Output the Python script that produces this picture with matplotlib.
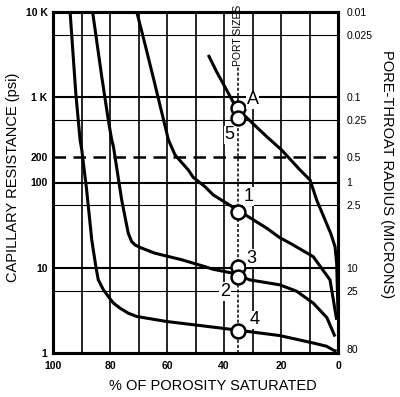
import numpy as np
import matplotlib
matplotlib.use("Agg")
import matplotlib.pyplot as plt
import matplotlib.transforms as mtransforms

plt.rcParams['font.family'] = ['Liberation Sans', 'DejaVu Sans']

# curves: % porosity saturated vs capillary pressure (psi)
sat_4 = [94.0, 92.0, 90.5, 89.9, 88.2, 86.4, 84.9, 84.1, 82.3, 80.6, 78.8, 76.5, 73.6, 70.6,
         60.1, 48.4, 35.0, 20.4, 8.7, 4.0, 1.6, 0.5]
pc_4 = [10000, 1114, 316, 241, 82, 21.2, 10.0, 7.2, 5.5, 4.6, 3.85, 3.36, 2.93, 2.68,
        2.34, 2.1, 1.85, 1.6, 1.31, 1.2, 1.08, 1.05]

sat_2 = [86.1, 82.9, 80.6, 79.4, 78.8, 75.9, 73.6, 72.4, 71.2, 68.9, 64.2, 54.8, 46.7, 43.8,
         36.7, 30.9, 20.4, 14.5, 8.7, 3.9, 1.05]
pc_2 = [10000, 1746, 542, 316, 264, 62.5, 25.4, 20.3, 18.5, 17.0, 14.8, 12.4, 10.3, 9.6,
        8.6, 7.2, 6.3, 5.3, 3.85, 2.6, 1.56]

sat_1 = [70.6, 67.8, 64.9, 61.2, 59.5, 57.2, 52.5, 50.8, 46.7, 43.8, 35.0, 25.0, 20.4, 16.8,
         8.7, 2.8, 0.47]
pc_1 = [10000, 4295, 1746, 542, 316, 211, 140, 115, 89.5, 71.6, 47.0, 29.1, 22.5, 19.4,
        13.5, 7.2, 2.45]

sat_a = [45.5, 42.6, 39.1, 35.0, 32.6, 25.0, 19.8, 13.3, 9.8, 7.5, 4.0, 2.5, 1.05, 0.47, 0.0]
pc_a = [3133, 1995, 1219, 680, 600, 345, 241, 140, 107, 62.5, 33, 25, 17.7, 11.3, 2.9]

# marked points on the 35 % line
pt_sat = 35.0
pt_pc = [743, 568, 45.6, 10.3, 7.7, 1.79]
pt_lab = ['A', '5', '1', '3', '2', '4']
lab_pos = [(30.0, 929), (38.1, 361), (31.5, 68.4), (30.3, 13.0), (39.6, 5.26), (29.1, 2.45)]

# axes ticks and grid
left_ticks = [10000, 1000, 200, 100, 10, 1]
left_labels = ['10 K', '1 K', '200', '100', '10', '1']
right_ticks = [10000, 5400, 1000, 540, 200, 100, 54, 10, 5.4, 1.12]
right_labels = ['0.01', '0.025', '0.1', '0.25', '0.5', '1', '2.5', '10', '25', '80']
x_ticks = [100, 80, 60, 40, 20, 0]
grid_major = [1000, 100, 10]
grid_minor = [5400, 540, 54, 5.4]
grid_x = [10, 20, 30, 40, 50, 60, 70, 80, 90]

fig = plt.figure(figsize=(4, 3.97), dpi=100)
ax = fig.add_axes([53 / 400, 44 / 397, 285 / 400, 341 / 397])
ax.set_yscale('log')
ax.set_xlim(100, 0)
ax.set_ylim(1, 10000)

for g in grid_major:
    ax.axhline(g, color='black', lw=1.5, zorder=1)
for g in grid_minor:
    ax.axhline(g, color='black', lw=0.8, zorder=1)
for g in grid_x:
    ax.axvline(g, color='black', lw=1.2, zorder=1)
ax.axhline(200, color='black', lw=1.8, ls=(0, (5, 3)), zorder=1)

# port sizes line
trans = mtransforms.blended_transform_factory(ax.transData, ax.transAxes)
ax.plot([pt_sat, pt_sat], [0, 0.84], transform=trans, color='black', lw=1.1,
        ls=(0, (2, 1.3)), zorder=2)
ax.text(pt_sat, 0.93, 'PORT SIZES', transform=trans, rotation=90, ha='center',
        va='center', fontsize=7.5, zorder=3)

for s, p in [(sat_4, pc_4), (sat_2, pc_2), (sat_1, pc_1), (sat_a, pc_a)]:
    ax.plot(s, p, color='black', lw=2.2, zorder=3, solid_capstyle='butt')

ax.plot([pt_sat] * len(pt_pc), pt_pc, 'o', ms=10, mfc='white', mec='black', mew=1.8,
        zorder=4, linestyle='none')
for lab, (lx, ly) in zip(pt_lab, lab_pos):
    ax.text(lx, ly, lab, fontsize=13, ha='center', va='center', zorder=5,
            bbox=dict(facecolor='white', edgecolor='none', pad=0.5))

ax.set_yticks(left_ticks)
ax.set_yticklabels(left_labels, fontsize=7.5, fontweight='bold')
ax.set_xticks(x_ticks)
ax.set_xticklabels([str(t) for t in x_ticks], fontsize=7.5, fontweight='bold')
ax.minorticks_off()
ax.tick_params(axis='both', length=0)
ax.tick_params(axis='y', pad=4)
ax.tick_params(axis='x', pad=6)

ax2 = ax.twinx()
ax2.set_yscale('log')
ax2.set_ylim(1, 10000)
ax2.set_yticks(right_ticks)
ax2.set_yticklabels(right_labels, fontsize=7.5)
ax2.minorticks_off()
ax2.tick_params(axis='y', length=0, pad=6)

for a in (ax, ax2):
    for sp in a.spines.values():
        sp.set_linewidth(2.2)
        sp.set_zorder(6)

fig.text(13 / 400, 1 - 177 / 397, 'CAPILLARY RESISTANCE (psi)', rotation=90,
         ha='center', va='center', fontsize=10.5)
fig.text(387 / 400, 1 - 174 / 397, 'PORE-THROAT RADIUS (MICRONS)', rotation=270,
         ha='center', va='center', fontsize=10.5)
fig.text(213 / 400, 1 - 386 / 397, '% OF POROSITY SATURATED', ha='center',
         va='center', fontsize=10.5)

fig.savefig('out.png', dpi=100)
